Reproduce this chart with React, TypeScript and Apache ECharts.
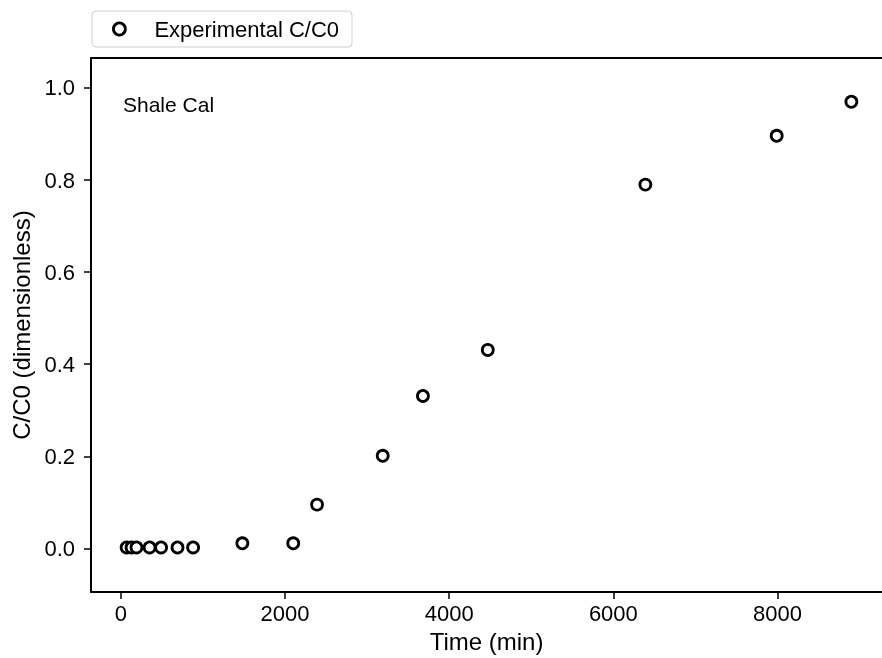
import React, { useEffect, useRef } from "react";
import * as echarts from "echarts";

const times = [70, 130, 190, 350, 490, 690, 880, 1480, 2100, 2390, 3190, 3680, 4470, 6390, 7990, 8900];
const ratios = [0.002, 0.002, 0.002, 0.002, 0.002, 0.002, 0.002, 0.011, 0.011, 0.095, 0.201, 0.331, 0.431, 0.79, 0.896, 0.97];
const xTicks = [0, 2000, 4000, 6000, 8000];
const yTicks = [0, 0.2, 0.4, 0.6, 0.8, 1.0];
const seriesName = "Experimental C/C0";
const annotation = "Shale Cal";

const FONT = "Liberation Sans, Arial, Helvetica, sans-serif";

export default function App() {
  const ref = useRef<HTMLDivElement>(null);
  useEffect(() => {
    if (!ref.current) return;
    const chart = echarts.init(ref.current, undefined, { renderer: "svg" });
    const markerStyle = { color: "#fff", borderColor: "#000", borderWidth: 2.8, opacity: 1 };
    chart.setOption({
      animation: false,
      textStyle: { fontFamily: FONT },
      grid: { left: 91, top: 58, right: -4, bottom: 62, show: false },
      legend: {
        left: 92,
        top: 11,
        data: [{ name: seriesName, icon: "circle" }],
        itemWidth: 12,
        itemHeight: 12,
        padding: [7, 13, 7, 20],
        borderColor: "#d0d0d0",
        borderWidth: 1,
        borderRadius: 4,
        itemStyle: markerStyle,
        textStyle: { fontFamily: FONT, fontSize: 22, color: "#000", padding: [0, 0, 0, 24] },
      },
      xAxis: [
        {
          type: "value",
          min: -364,
          max: 9273,
          name: "Time (min)",
          nameLocation: "middle",
          nameGap: 35,
          nameTextStyle: { fontFamily: FONT, fontSize: 24, color: "#000" },
          axisLine: { show: true, onZero: false, lineStyle: { color: "#000", width: 2 } },
          axisTick: { show: true, length: 7, lineStyle: { color: "#000", width: 1.5 }, customValues: xTicks },
          axisLabel: {
            fontFamily: FONT,
            fontSize: 22,
            color: "#000",
            margin: 10,
            customValues: xTicks,
            formatter: (v: number) => String(v),
          },
          splitLine: { show: false },
        },
        {
          type: "value",
          position: "top",
          min: -364,
          max: 9273,
          axisLine: { show: true, onZero: false, lineStyle: { color: "#000", width: 2 } },
          axisTick: { show: false },
          axisLabel: { show: false },
          splitLine: { show: false },
        },
      ],
      yAxis: {
        type: "value",
        min: -0.095,
        max: 1.065,
        name: "C/C0 (dimensionless)",
        nameLocation: "middle",
        nameGap: 57,
        nameTextStyle: { fontFamily: FONT, fontSize: 24, color: "#000" },
        axisLine: { show: true, onZero: false, lineStyle: { color: "#000", width: 2 } },
        axisTick: { show: true, length: 7, lineStyle: { color: "#000", width: 1.5 }, customValues: yTicks },
        axisLabel: {
          fontFamily: FONT,
          fontSize: 22,
          color: "#000",
          margin: 16,
          customValues: yTicks,
          formatter: (v: number) => v.toFixed(1),
        },
        splitLine: { show: false },
      },
      graphic: [
        {
          type: "text",
          left: 123,
          top: 94,
          style: { text: annotation, fontFamily: FONT, fontSize: 21, fill: "#000" },
        },
      ],
      series: [
        {
          name: seriesName,
          type: "scatter",
          symbol: "circle",
          symbolSize: 11,
          itemStyle: markerStyle,
          data: times.map((t, i) => [t, ratios[i]]),
        },
      ],
    });
    return () => chart.dispose();
  }, []);
  return (
    <div
      ref={ref}
      style={{ position: "fixed", left: 0, top: 0, width: 882, height: 658 }}
    />
  );
}
